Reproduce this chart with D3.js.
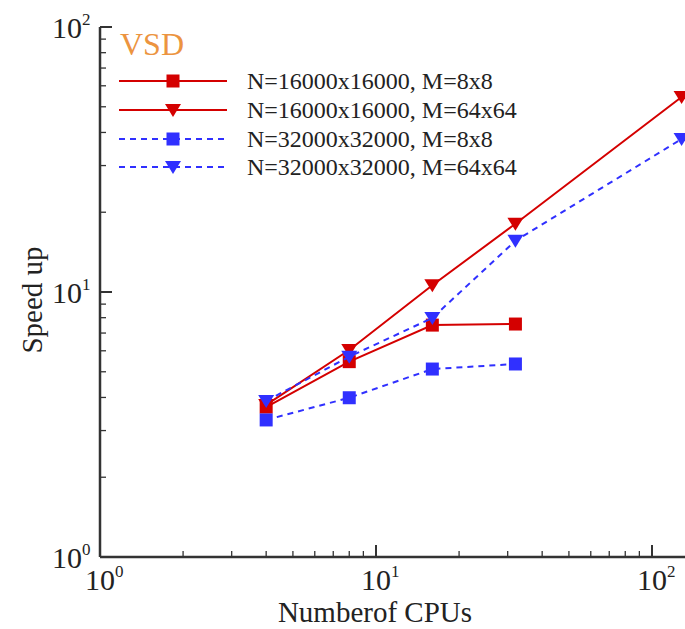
<!DOCTYPE html>
<html>
<head>
<meta charset="utf-8">
<script src="https://cdn.jsdelivr.net/npm/d3@7/dist/d3.min.js"></script>
<style>
  html, body { margin: 0; padding: 0; background: #fff; }
  svg { display: block; font-family: "Liberation Serif", "Times New Roman", serif; }
</style>
</head>
<body>
<svg id="chart" width="685" height="629"></svg>
<script>
// CPU counts on the x axis
const cpus = [4, 8, 16, 32, 128];

// Speed-up for each configuration
const n16m8   = [3.68, 5.46, 7.50, 7.57];
const n16m64  = [3.75, 6.04, 10.6, 18.1, 54.4];
const n32m8   = [3.29, 3.99, 5.12, 5.35];
const n32m64  = [3.88, 5.70, 7.98, 15.6, 37.8];

const seriesNames = [
  "N=16000x16000, M=8x8",
  "N=16000x16000, M=64x64",
  "N=32000x32000, M=8x8",
  "N=32000x32000, M=64x64"
];

const majorTicks = [1, 10, 100];
const majorExp = ["0", "1", "2"];

const series = [
  { name: seriesNames[0], values: n16m8,  color: "#d40000", dash: null,  shape: "square" },
  { name: seriesNames[1], values: n16m64, color: "#d40000", dash: null,  shape: "tri" },
  { name: seriesNames[2], values: n32m8,  color: "#3030ff", dash: "6,5", shape: "square" },
  { name: seriesNames[3], values: n32m64, color: "#3030ff", dash: "6,5", shape: "tri" }
];

const svg = d3.select("#chart");
const plotLeft = 100, plotBottom = 557, plotTop = 27;

const x = d3.scaleLog().domain([1, 132]).range([plotLeft, plotLeft + 276 * Math.log10(132)]);
const y = d3.scaleLog().domain([1, 100]).range([plotBottom, plotTop]);

const axisColor = "#333";

// minor tick values for each decade
function minors(lo, hi) {
  const out = [];
  for (let d = lo; d < hi; d *= 10)
    for (let k = 2; k <= 9; k++) out.push(d * k);
  return out;
}

// x axis
const gx = svg.append("g");
gx.append("line").attr("x1", plotLeft).attr("x2", 685).attr("y1", plotBottom).attr("y2", plotBottom)
  .attr("stroke", axisColor).attr("stroke-width", 2.5);
gx.selectAll("line.minor").data(minors(1, 100).filter(v => x(v) <= 685))
  .enter().append("line").attr("class", "minor")
  .attr("x1", d => x(d)).attr("x2", d => x(d)).attr("y1", plotBottom).attr("y2", plotBottom - 6)
  .attr("stroke", axisColor).attr("stroke-width", 1.3);
gx.selectAll("line.major").data(majorTicks).enter().append("line").attr("class", "major")
  .attr("x1", d => x(d)).attr("x2", d => x(d)).attr("y1", plotBottom).attr("y2", plotBottom - 12)
  .attr("stroke", axisColor).attr("stroke-width", 2);
const xl = gx.selectAll("text").data(majorTicks).enter().append("text")
  .attr("x", d => x(d) - 15).attr("y", plotBottom + 33)
  .attr("font-size", 30).attr("fill", "#222");
xl.append("tspan").text("10");
xl.append("tspan").attr("dy", -13).attr("font-size", 17).text((d, i) => majorExp[i]);

// y axis
const gy = svg.append("g");
gy.append("line").attr("x1", plotLeft).attr("x2", plotLeft).attr("y1", plotBottom).attr("y2", plotTop)
  .attr("stroke", axisColor).attr("stroke-width", 2.5);
gy.selectAll("line.minor").data(minors(1, 100))
  .enter().append("line").attr("class", "minor")
  .attr("x1", plotLeft).attr("x2", plotLeft + 6).attr("y1", d => y(d)).attr("y2", d => y(d))
  .attr("stroke", axisColor).attr("stroke-width", 1.3);
gy.selectAll("line.major").data(majorTicks).enter().append("line").attr("class", "major")
  .attr("x1", plotLeft).attr("x2", plotLeft + 12).attr("y1", d => y(d)).attr("y2", d => y(d))
  .attr("stroke", axisColor).attr("stroke-width", 2);
const yl = gy.selectAll("text").data(majorTicks).enter().append("text")
  .attr("x", 52).attr("y", d => y(d) + 11)
  .attr("font-size", 30).attr("fill", "#222");
yl.append("tspan").text("10");
yl.append("tspan").attr("dy", -13).attr("font-size", 17).text((d, i) => majorExp[i]);

// axis titles
svg.append("text").attr("x", 375).attr("y", 622).attr("text-anchor", "middle")
  .attr("font-size", 29).attr("fill", "#222").text("Numberof CPUs");
svg.append("text").attr("transform", "translate(42,300) rotate(-90)").attr("text-anchor", "middle")
  .attr("font-size", 29).attr("fill", "#222").text("Speed up");

// markers
function drawMarker(g, shape, cx, cy, color) {
  if (shape === "square") {
    g.append("rect").attr("x", cx - 6.5).attr("y", cy - 6.5).attr("width", 13).attr("height", 13)
      .attr("fill", color);
  } else {
    g.append("path").attr("d", `M${cx - 8},${cy - 6} L${cx + 8},${cy - 6} L${cx},${cy + 7} Z`)
      .attr("fill", color);
  }
}

const line = d3.line().x(d => x(d[0])).y(d => y(d[1]));

series.forEach(s => {
  const pts = s.values.map((v, i) => [cpus[i], v]);
  const g = svg.append("g");
  g.append("path").attr("d", line(pts)).attr("fill", "none")
    .attr("stroke", s.color).attr("stroke-width", 2)
    .attr("stroke-dasharray", s.dash);
  pts.forEach(p => drawMarker(g, s.shape, x(p[0]), y(p[1]), s.color));
});

// legend
svg.append("text").attr("x", 120).attr("y", 55).attr("font-size", 32)
  .attr("fill", "#ec9440").text("VSD");
const rowY = [81, 110, 139, 167];
series.forEach((s, i) => {
  const g = svg.append("g");
  g.append("line").attr("x1", 119).attr("x2", 227).attr("y1", rowY[i]).attr("y2", rowY[i])
    .attr("stroke", s.color).attr("stroke-width", 2).attr("stroke-dasharray", s.dash);
  drawMarker(g, s.shape, 173, rowY[i], s.color);
  g.append("text").attr("x", 247).attr("y", rowY[i] + 8).attr("font-size", 24)
    .attr("fill", "#222").text(s.name);
});
</script>
</body>
</html>
